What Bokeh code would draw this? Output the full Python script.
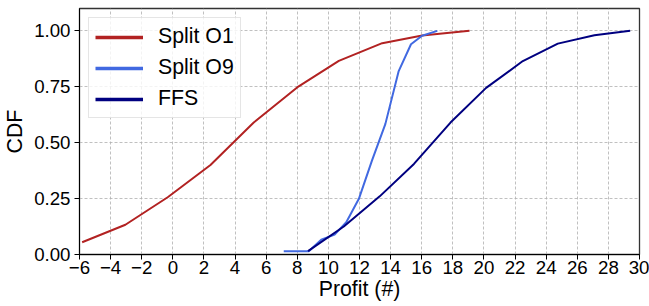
from bokeh.plotting import figure
from bokeh.models import FixedTicker, Legend, LegendItem, Range1d
from bokeh.embed import file_html
from bokeh.resources import INLINE

# ---- data ----
o1_x = [-5.83, -3.05, -0.33, 2.42, 5.2, 7.99, 10.67, 13.46, 16.03, 19.07]
o1_y = [0.055, 0.133, 0.256, 0.40, 0.59, 0.747, 0.866, 0.945, 0.979, 1.0]

o9_x = [7.13, 7.95, 8.74, 9.54, 10.4, 11.15, 11.96, 12.8, 13.66, 14.52, 15.31, 16.02, 17.0]
o9_y = [0.015, 0.015, 0.015, 0.066, 0.089, 0.144, 0.249, 0.42, 0.583, 0.82, 0.94, 0.978, 1.0]

ffs_x = [8.69, 10.99, 13.3, 15.5, 17.85, 20.14, 22.5, 24.75, 27.1, 29.4]
ffs_y = [0.015, 0.125, 0.26, 0.405, 0.59, 0.745, 0.865, 0.943, 0.98, 1.0]

series_names = ["Split O1", "Split O9", "FFS"]
x_ticks = list(range(-6, 31, 2))
y_ticks = [0.0, 0.25, 0.5, 0.75, 1.0]
y_tick_labels = ["0.00", "0.25", "0.50", "0.75", "1.00"]
x_label = "Profit (#)"
y_label = "CDF"

FONT = "Liberation Sans"
NAN = float("nan")

p = figure(width=649, height=306, output_backend="svg", toolbar_location=None,
           x_range=Range1d(-6, 30), y_range=Range1d(0, 1.1),
           min_border_left=0, min_border_right=10, min_border_top=8, min_border_bottom=52)

p.background_fill_color = "white"
p.border_fill_color = "white"
p.outline_line_color = "#333333"
p.outline_line_width = 1.3

colors = ["#b22222", "#4169e1", "#000080"]
r1 = p.line(o1_x, o1_y, line_color=colors[0], line_width=2)
r2 = p.line(o9_x, o9_y, line_color=colors[1], line_width=2)
r3 = p.line(ffs_x, ffs_y, line_color=colors[2], line_width=2)

# legend-only glyphs (thicker, as in the reference legend); nothing is drawn in the plot
l1 = p.line([NAN], [NAN], line_color=colors[0], line_width=3.5)
l2 = p.line([NAN], [NAN], line_color=colors[1], line_width=3.5)
l3 = p.line([NAN], [NAN], line_color=colors[2], line_width=3.5)

# axes
p.xaxis.ticker = FixedTicker(ticks=x_ticks)
p.xaxis.major_label_overrides = {t: str(t).replace("-", "\u2212") for t in x_ticks}
p.yaxis.ticker = FixedTicker(ticks=y_ticks)
p.yaxis.major_label_overrides = dict(zip(y_ticks, y_tick_labels))

for ax in (p.xaxis, p.yaxis):
    ax.major_label_text_font = FONT
    ax.major_label_text_font_size = "18.7px"
    ax.major_label_text_color = "black"
    ax.axis_label_text_font = FONT
    ax.axis_label_text_font_size = "21.3px"
    ax.axis_label_text_font_style = "normal"
    ax.axis_label_text_color = "black"
    ax.minor_tick_line_color = None
    ax.major_tick_out = 5
    ax.major_tick_in = 0
    ax.major_tick_line_color = "black"
    ax.axis_line_color = "black"

p.xaxis.major_label_standoff = 1
p.xaxis.axis_label_standoff = 0
p.yaxis.major_label_standoff = 4
p.yaxis.axis_label_standoff = 4
p.xaxis.axis_label = x_label
p.yaxis.axis_label = y_label

# grid
for g in (p.xgrid, p.ygrid):
    g.grid_line_color = "#b0b0b0"
    g.grid_line_dash = "3 2"
    g.grid_line_width = 0.8

p.xgrid.ticker = FixedTicker(ticks=x_ticks)
p.ygrid.ticker = FixedTicker(ticks=y_ticks)

legend = Legend(items=[LegendItem(label=series_names[0], renderers=[l1]),
                       LegendItem(label=series_names[1], renderers=[l2]),
                       LegendItem(label=series_names[2], renderers=[l3])],
                location="top_left")
legend.label_text_font = FONT
legend.label_text_font_size = "21.3px"
legend.label_text_color = "black"
legend.label_height = 20
legend.glyph_height = 20
legend.glyph_width = 48
legend.label_standoff = 15
legend.spacing = 6
legend.padding = 6
legend.margin = 9
legend.border_line_color = "#cccccc"
legend.border_line_width = 1
legend.background_fill_color = "white"
legend.background_fill_alpha = 0.8
p.add_layout(legend)

open("out.html", "w").write(file_html(p, INLINE))
